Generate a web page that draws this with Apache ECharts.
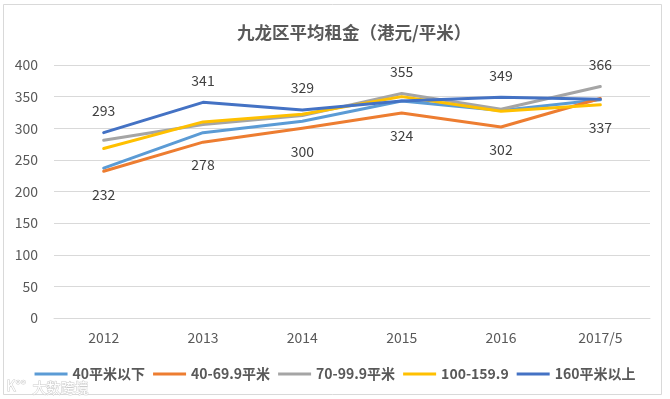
<!DOCTYPE html>
<html>
<head>
<meta charset="utf-8">
<script src="https://cdn.jsdelivr.net/npm/echarts@6/dist/echarts.min.js"></script>
<style>
html,body{margin:0;padding:0;background:#fff;}
#main{width:670px;height:399px;}
</style>
</head>
<body>
<div id="main"></div>
<script>
const categories = ['2012', '2013', '2014', '2015', '2016', '2017/5'];
const seriesNames = ['40平米以下', '40-69.9平米', '70-99.9平米', '100-159.9', '160平米以上'];
const under40 = [237, 293, 311, 343, 328, 345];
const s40to70 = [232, 278, 300, 324, 302, 347];
const s70to100 = [281, 306, 320, 355, 330, 366];
const s100to160 = [268, 310, 322, 350, 327, 337];
const over160 = [293, 341, 329, 343, 349, 346];
const yTicks = [0, 50, 100, 150, 200, 250, 300, 350, 400];

const allValues = [under40, s40to70, s70to100, s100to160, over160];
const colors = ['#5B9BD5', '#ED7D31', '#A5A5A5', '#FFC000', '#4472C4'];
const FONT = '"Noto Sans CJK SC", "Noto Sans", sans-serif';

// per year: label the highest value above and the lowest value below
const maxIdx = categories.map((c, i) => {
  let best = 0;
  allValues.forEach((arr, k) => { if (arr[i] > allValues[best][i]) best = k; });
  return best;
});
const minIdx = categories.map((c, i) => {
  let best = 0;
  allValues.forEach((arr, k) => { if (arr[i] < allValues[best][i]) best = k; });
  return best;
});

const series = allValues.map((arr, k) => ({
  name: seriesNames[k],
  type: 'line',
  symbol: 'circle',
  symbolSize: 0,
  showSymbol: true,
  smooth: false,
  lineStyle: { width: 3, color: colors[k], cap: 'round', join: 'round' },
  itemStyle: { color: colors[k] },
  data: arr.map((v, i) => {
    const item = { value: v };
    if (maxIdx[i] === k) {
      item.label = { show: true, position: 'top', distance: 15 };
    } else if (minIdx[i] === k) {
      item.label = { show: true, position: 'bottom', distance: 16 };
    }
    return item;
  }),
  label: { show: false, color: '#404040', fontSize: 14, fontFamily: FONT },
  emphasis: { disabled: true },
  z: 2 + k
}));

const chart = echarts.init(document.getElementById('main'), null, { renderer: 'canvas' });
chart.setOption({
  animation: false,
  backgroundColor: '#fff',
  title: {
    text: '九龙区平均租金（港元/平米）',
    left: 232,
    top: 19,
    textStyle: { color: '#595959', fontSize: 17.5, fontWeight: 'bold', fontFamily: FONT }
  },
  legend: {
    data: seriesNames.map(n => ({ name: n, icon: 'rect' })),
    left: 'center',
    top: 362,
    itemWidth: 33,
    itemHeight: 3,
    itemGap: 8,
    textStyle: { color: '#595959', fontSize: 14, fontWeight: 'bold', fontFamily: FONT }
  },
  grid: { left: 54, right: 20, top: 65, bottom: 81, containLabel: false },
  xAxis: {
    type: 'category',
    data: categories,
    boundaryGap: true,
    axisLine: { show: true, lineStyle: { color: '#d9d9d9', width: 1 } },
    axisTick: { show: false },
    axisLabel: { color: '#595959', fontSize: 14, margin: 13, fontFamily: FONT }
  },
  yAxis: {
    type: 'value',
    min: yTicks[0],
    max: yTicks[yTicks.length - 1],
    interval: yTicks[1] - yTicks[0],
    axisLine: { show: false },
    axisTick: { show: false },
    axisLabel: { color: '#595959', fontSize: 14, margin: 16, fontFamily: FONT },
    splitLine: { show: true, lineStyle: { color: '#d9d9d9', width: 1 } }
  },
  graphic: [
    {
      type: 'rect',
      shape: { x: 3.5, y: 4.5, width: 658, height: 390 },
      style: { fill: null, stroke: '#d9d9d9', lineWidth: 1 },
      silent: true, z: -1
    },
    {
      type: 'text',
      left: 32, top: 380,
      style: { text: '大数跨境', fill: '#ffffff', stroke: '#cccccc', lineWidth: 1, fontSize: 14, fontFamily: FONT },
      silent: true
    },
    {
      type: 'text',
      left: 6, top: 378,
      style: { text: 'K°°', fill: '#ffffff', stroke: '#cccccc', lineWidth: 1, fontSize: 14, fontFamily: FONT },
      silent: true
    }
  ],
  series: series
});
</script>
</body>
</html>
